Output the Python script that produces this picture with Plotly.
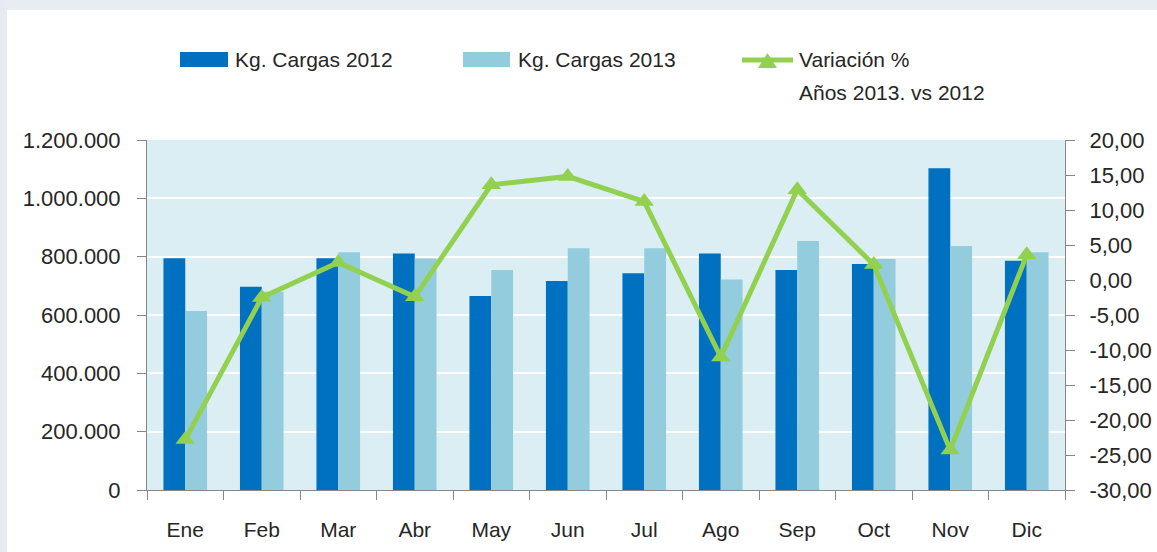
import plotly.graph_objects as go

months = ["Ene", "Feb", "Mar", "Abr", "May", "Jun", "Jul", "Ago", "Sep", "Oct", "Nov", "Dic"]
kg_2012 = [795000, 697000, 795000, 811000, 665000, 717000, 743000, 811000, 754000, 775000, 1103000, 786000]
kg_2013 = [614000, 680000, 815000, 794000, 754000, 829000, 829000, 722000, 854000, 792000, 837000, 815000]
variacion = [-22.8, -2.5, 2.5, -2.4, 13.6, 14.8, 11.2, -11.0, 12.9, 2.2, -24.3, 3.6]

left_tickvals = [0, 200000, 400000, 600000, 800000, 1000000, 1200000]
left_ticktext = ["0", "200.000", "400.000", "600.000", "800.000", "1.000.000", "1.200.000"]
right_tickvals = [-30, -25, -20, -15, -10, -5, 0, 5, 10, 15, 20]
right_ticktext = ["-30,00", "-25,00", "-20,00", "-15,00", "-10,00", "-5,00", "0,00", "5,00", "10,00", "15,00", "20,00"]

legend_2012 = "Kg. Cargas 2012"
legend_2013 = "Kg. Cargas 2013"
legend_var_1 = "Variación %"
legend_var_2 = "Años 2013. vs 2012"

C2012 = "#0070C0"
C2013 = "#93CDDD"
CVAR = "#92D050"
AXC = "#868686"
TXT = "#262626"
FONT = "Liberation Sans, Arial, sans-serif"

W, H = 1157, 552
L, R, T, B = 147, 1065, 140, 490


def px_x(px):
    return (px - L) / (R - L)


def px_y(py):
    return (B - py) / (B - T)


fig = go.Figure()
fig.add_trace(go.Bar(x=months, y=kg_2012, name=legend_2012, marker=dict(color=C2012, line=dict(width=0))))
fig.add_trace(go.Bar(x=months, y=kg_2013, name=legend_2013, marker=dict(color=C2013, line=dict(width=0))))
fig.add_trace(go.Scatter(x=months, y=variacion, name=legend_var_1 + " " + legend_var_2, yaxis="y2",
                         mode="lines+markers",
                         line=dict(color=CVAR, width=5),
                         marker=dict(symbol="triangle-up", size=17, color=CVAR)))

shapes = [
    dict(type="rect", xref="paper", yref="paper", x0=px_x(0), x1=px_x(W), y0=px_y(0), y1=px_y(10),
         fillcolor="#e8edf2", line=dict(width=0), layer="below"),
    dict(type="rect", xref="paper", yref="paper", x0=px_x(0), x1=px_x(7), y0=px_y(0), y1=px_y(H),
         fillcolor="#e6ebf2", line=dict(width=0), layer="below"),
    # legend symbols
    dict(type="rect", xref="paper", yref="paper", x0=px_x(180), x1=px_x(228), y0=px_y(52), y1=px_y(67),
         fillcolor=C2012, line=dict(width=0)),
    dict(type="rect", xref="paper", yref="paper", x0=px_x(463), x1=px_x(510), y0=px_y(52), y1=px_y(67),
         fillcolor=C2013, line=dict(width=0)),
    dict(type="line", xref="paper", yref="paper", x0=px_x(742), x1=px_x(793), y0=px_y(60), y1=px_y(60),
         line=dict(color=CVAR, width=5)),
    dict(type="path", xref="paper", yref="paper",
         path="M {},{} L {},{} L {},{} Z".format(px_x(758), px_y(68), px_x(777), px_y(68), px_x(767.5), px_y(53)),
         fillcolor=CVAR, line=dict(width=0)),
]

leg_font = dict(family=FONT, size=21, color=TXT)
annotations = [
    dict(xref="paper", yref="paper", x=px_x(233), y=px_y(60), text=legend_2012, showarrow=False,
         xanchor="left", yanchor="middle", font=leg_font),
    dict(xref="paper", yref="paper", x=px_x(516), y=px_y(60), text=legend_2013, showarrow=False,
         xanchor="left", yanchor="middle", font=leg_font),
    dict(xref="paper", yref="paper", x=px_x(797), y=px_y(60), text=legend_var_1, showarrow=False,
         xanchor="left", yanchor="middle", font=leg_font),
    dict(xref="paper", yref="paper", x=px_x(797), y=px_y(93), text=legend_var_2, showarrow=False,
         xanchor="left", yanchor="middle", font=leg_font),
]

tick_font = dict(family=FONT, size=22, color=TXT)
fig.update_layout(
    width=W, height=H, autosize=False,
    margin=dict(l=L, r=W - R, t=T, b=H - B, pad=0),
    paper_bgcolor="white", plot_bgcolor="#DAEEF3",
    barmode="group", bargap=0.43, bargroupgap=0,
    showlegend=False,
    font=dict(family=FONT, size=21, color=TXT),
    shapes=shapes, annotations=annotations,
    xaxis=dict(range=[-0.5, len(months) - 0.5], autorange=False, automargin=False,
               showline=True, linecolor=AXC, linewidth=1, ticks="outside", ticklen=9, tickcolor=AXC,
               tickson="boundaries", showgrid=False, ticklabelstandoff=21,
               tickfont=dict(family=FONT, size=21, color=TXT)),
    yaxis=dict(range=[0, 1200000], autorange=False, automargin=False,
               tickvals=left_tickvals, ticktext=left_ticktext,
               showline=True, linecolor=AXC, linewidth=1, ticks="outside", ticklen=9, tickcolor=AXC,
               showgrid=True, gridcolor="white", gridwidth=2, zeroline=False, ticklabelstandoff=12,
               tickfont=tick_font),
    yaxis2=dict(range=[-30, 20], autorange=False, automargin=False,
                tickvals=right_tickvals, ticktext=right_ticktext, overlaying="y", side="right",
                showline=True, linecolor=AXC, linewidth=1, ticks="outside", ticklen=9, tickcolor=AXC,
                showgrid=False, zeroline=False, ticklabelstandoff=10,
                tickfont=tick_font),
)

fig.write_html("out.html", config={"displayModeBar": False},
               post_script="document.body.style.margin='0';document.body.style.overflow='hidden';")
